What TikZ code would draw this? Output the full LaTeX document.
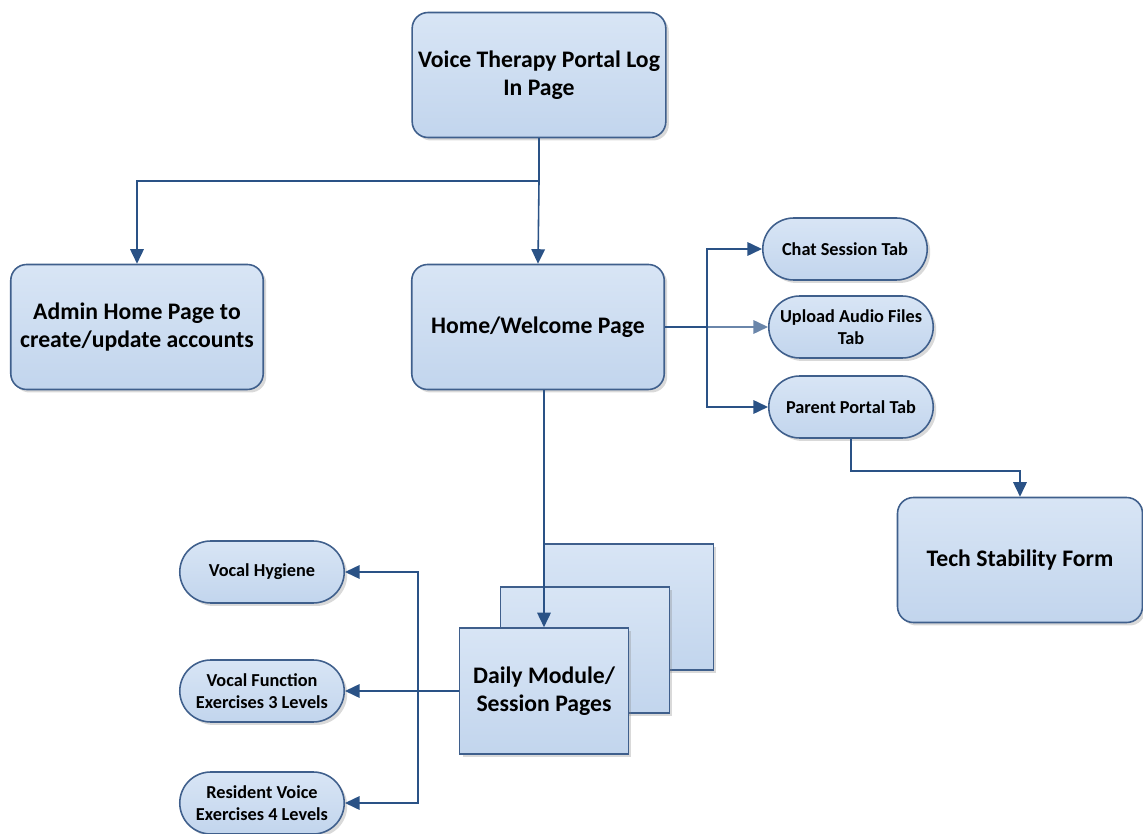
\documentclass[tikz,border=0pt]{standalone}
\usepackage{fontspec}
\setmainfont{Carlito}
\usetikzlibrary{arrows.meta,positioning,calc,shapes.misc,shadows}
\definecolor{boxline}{HTML}{3F5F8C}
\definecolor{boxtop}{HTML}{D8E5F5}
\definecolor{boxbot}{HTML}{C2D5ED}
\definecolor{arrowC}{HTML}{2A5286}
\tikzset{
  bigbox/.style={rectangle, rounded corners=9pt, draw=boxline, line width=0.9pt,
                 top color=boxtop, bottom color=boxbot, align=center,
                 font=\fontsize{13.5}{16}\selectfont\bfseries,
                 minimum width=5.05cm, minimum height=2.5cm,
                 drop shadow={shadow xshift=0.6mm, shadow yshift=-0.6mm, opacity=0.3}},
  pill/.style={rounded rectangle, draw=boxline, line width=0.9pt,
               top color=boxtop, bottom color=boxbot, align=center,
               font=\fontsize{10.4}{12.5}\selectfont\bfseries,
               minimum width=3.36cm, minimum height=1.24cm, inner sep=1pt,
               drop shadow={shadow xshift=0.6mm, shadow yshift=-0.6mm, opacity=0.3}},
  sheet/.style={rectangle, draw=boxline, line width=0.9pt,
                top color=boxtop, bottom color=boxbot, align=center,
                font=\fontsize{13.5}{16}\selectfont\bfseries,
                minimum width=3.38cm, minimum height=2.52cm,
                drop shadow={shadow xshift=0.6mm, shadow yshift=-0.6mm, opacity=0.3}},
  arr/.style={-{Triangle[length=2.9mm,width=2.7mm]}, line width=0.9pt, draw=arrowC},
}

\begin{document}
\begin{tikzpicture}[x=0.02cm, y=-0.02cm]
    \useasboundingbox (0,0) rectangle (1143,834);
    % top level
    \node[bigbox] (login) at (539,75) {Voice Therapy Portal Log\\In Page};
    \node[bigbox] (admin) at (137,327) {Admin Home Page to\\create/update accounts};
    \node[bigbox] (home) at (538,327) {Home/Welcome Page};
    % tabs
    \node[pill] (chat) at (845,249) {Chat Session Tab};
    \node[pill] (upload) at (851,327) {Upload Audio Files\\Tab};
    \node[pill] (parent) at (851,407) {Parent Portal Tab};
    \node[bigbox, minimum width=4.9cm] (tech) at (1020,560) {Tech Stability Form};
    % module pages
    \node[sheet] (daily3) at (629,607) {};
    \node[sheet] (daily2) at (585,650) {};
    \node[sheet] (daily) at (544,691) {Daily Module/\\Session Pages};
    \node[pill] (hygiene) at (262,572) {Vocal Hygiene};
    \node[pill] (vfe) at (262,691) {Vocal Function\\Exercises 3 Levels};
    \node[pill] (rve) at (262,803) {Resident Voice\\Exercises 4 Levels};

    \coordinate (split) at ($(login.south)+(0,43)$);
    \coordinate (hub) at ($(home.east)+(42,0)$);
    \coordinate (bus) at ($(daily.west)+(-41,0)$);

    \draw[arr] (login.south) -- (split) -| (admin.north);
    \draw[arr] (split) -- (home.north);
    \draw[arr, draw=arrowC!70] (home.east) -- (upload.west);
    \draw[line width=1.6pt, draw=arrowC] (home.east) -- (hub);
    \draw[arr] (hub) |- (chat.west);
    \draw[arr] (hub) |- (parent.west);
    \draw[arr] (parent.south) -- ++(0,32) -| (tech.north);
    \draw[arr] (home.south -| daily.north) -- (daily.north);
    \draw[arr] (daily.west) -- (vfe.east);
    \draw[arr] (bus) |- (hygiene.east);
    \draw[arr] (bus) |- (rve.east);
  \end{tikzpicture}
\end{document}
